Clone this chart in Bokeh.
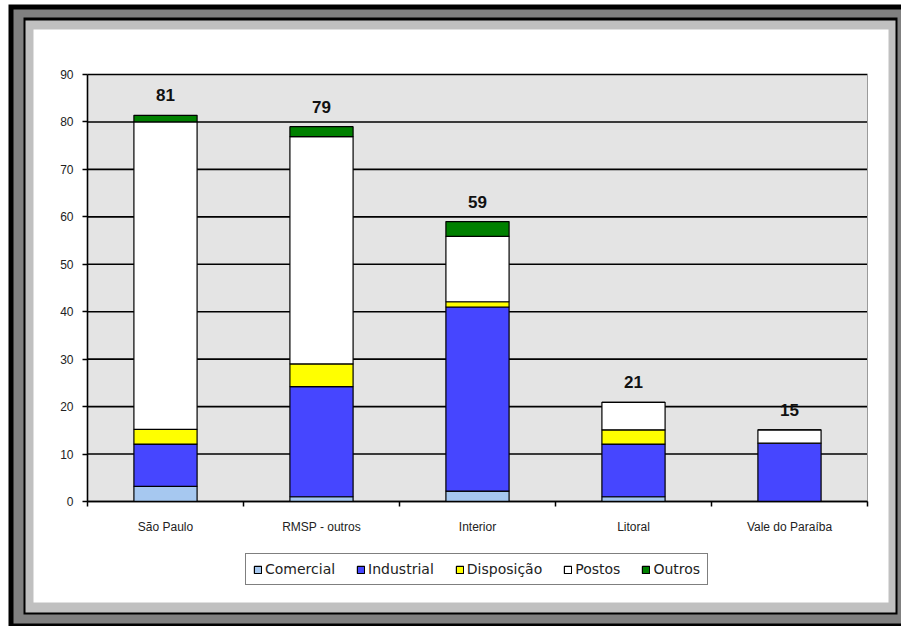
from bokeh.plotting import figure
from bokeh.models import (ColumnDataSource, FixedTicker, Legend, LegendItem, Range1d)
from bokeh.embed import file_html
from bokeh.resources import INLINE
from bokeh.core.properties import value

categories = ["São Paulo", "RMSP - outros", "Interior", "Litoral", "Vale do Paraíba"]
comercial = [3.2, 1.0, 2.2, 1.0, 0.0]
industrial = [8.9, 23.2, 38.8, 11.1, 12.3]
disposicao = [3.1, 4.8, 1.1, 3.0, 0.0]
postos = [64.8, 47.9, 13.8, 5.8, 2.8]
outros = [1.4, 2.1, 3.1, 0.0, 0.0]
total_labels = ["81", "79", "59", "21", "15"]
series_names = ["Comercial", "Industrial", "Disposição", "Postos", "Outros"]
series_keys = ["comercial", "industrial", "disposicao", "postos", "outros"]
series_colors = ["#A6C8F0", "#4646FF", "#FFFF00", "#FFFFFF", "#008000"]
y_ticks = [0, 10, 20, 30, 40, 50, 60, 70, 80, 90]

# ---- layout constants (pixels) ----
W, H = 901, 626
PL, PR, PT, PB = 87, 867, 74, 501          # plot area inside the canvas
Y_MAX = 90
N = len(categories)

x_per_px = N / (PR - PL)
y_per_px = Y_MAX / (PB - PT)
x_range = Range1d(-PL * x_per_px, N + (W - PR) * x_per_px)
y_range = Range1d(-(H - PB) * y_per_px, Y_MAX + PT * y_per_px)

xs = [i + 0.5 for i in range(N)]
totals = [a + b + c + d + e for a, b, c, d, e in zip(comercial, industrial, disposicao, postos, outros)]

source = ColumnDataSource(dict(x=xs, comercial=comercial, industrial=industrial,
                               disposicao=disposicao, postos=postos, outros=outros,
                               total=totals, label=total_labels))

FONT = "Liberation Sans"

p = figure(width=W, height=H, x_range=x_range, y_range=y_range,
           output_backend="svg", toolbar_location=None,
           min_border=0, min_border_left=0, min_border_right=0,
           min_border_top=0, min_border_bottom=0)
p.extra_x_ranges = {"px": Range1d(0, W)}
p.extra_y_ranges = {"px": Range1d(H, 0)}
p.border_fill_color = "white"
p.background_fill_color = "white"
p.outline_line_color = None

# ---- decorative window frame (pixel space) ----
ring_left = [8, 13, 23, 25, 33]
ring_top = [4, 9, 17, 20, 29]
ring_right = [W, W, 897, 895, 888]
ring_bottom = [H, 623, 614, 612, 602]
ring_colors = ["black", "#808080", "black", "#C0C0C0", "white"]
p.quad(left=ring_left, right=ring_right, top=ring_top, bottom=ring_bottom,
       fill_color=ring_colors, line_color=None, x_range_name="px", y_range_name="px")

# plot-area background
p.quad(left=[0], right=[N], bottom=[0], top=[Y_MAX], fill_color="#E4E4E4", line_color=None)

# horizontal gridlines
p.segment(x0=[0] * len(y_ticks), x1=[N] * len(y_ticks), y0=y_ticks, y1=y_ticks,
          line_color="black", line_width=1.6)
# right edge of plot area
p.segment(x0=[N], x1=[N], y0=[0], y1=[Y_MAX], line_color="#9A9A9A", line_width=1)

renderers = p.vbar_stack(series_keys, x="x", width=0.405, color=series_colors, source=source,
                         line_color="black", line_width=1.2)

p.text(x="x", y="total", text="label", source=source, text_align="center",
       text_baseline="bottom", y_offset=-14, text_font=value(FONT),
       text_font_size="17px", text_font_style="bold", text_color="#111111")

# ---- axes drawn at fixed locations ----
xa = p.xaxis[0]
xa.fixed_location = 0
xa.bounds = (0, N)
xa.ticker = FixedTicker(ticks=xs, minor_ticks=list(range(N + 1)))
xa.major_label_overrides = {x: c for x, c in zip(xs, categories)}
xa.major_tick_out = 0
xa.major_tick_in = 0
xa.minor_tick_out = 5
xa.minor_tick_in = 0
xa.minor_tick_line_color = "black"
xa.minor_tick_line_width = 1.5
xa.axis_line_color = "black"
xa.axis_line_width = 1.6
xa.major_label_standoff = 13
xa.major_label_text_font = FONT
xa.major_label_text_font_size = "12px"
xa.major_label_text_color = "#222222"

ya = p.yaxis[0]
ya.fixed_location = 0
ya.bounds = (0, Y_MAX)
ya.ticker = FixedTicker(ticks=y_ticks)
ya.major_tick_out = 5
ya.major_tick_in = 0
ya.minor_tick_line_color = None
ya.axis_line_color = "black"
ya.axis_line_width = 1.6
ya.major_tick_line_color = "black"
ya.major_tick_line_width = 1.5
ya.major_label_standoff = 9
ya.major_label_text_font = FONT
ya.major_label_text_font_size = "12px"
ya.major_label_text_color = "#222222"

p.xgrid.visible = False
p.ygrid.visible = False

legend = Legend(items=[LegendItem(label=n, renderers=[r]) for n, r in zip(series_names, renderers)],
                orientation="horizontal", location=(245, H - 585),
                border_line_color="black", border_line_width=1,
                background_fill_color="white", background_fill_alpha=1,
                label_text_font="DejaVu Sans", label_text_font_size="14px",
                label_text_color="#222222",
                glyph_width=9, glyph_height=9, label_standoff=3, spacing=21,
                padding=7, margin=0, label_height=14)
p.add_layout(legend)

open("out.html", "w").write(file_html(p, INLINE))
